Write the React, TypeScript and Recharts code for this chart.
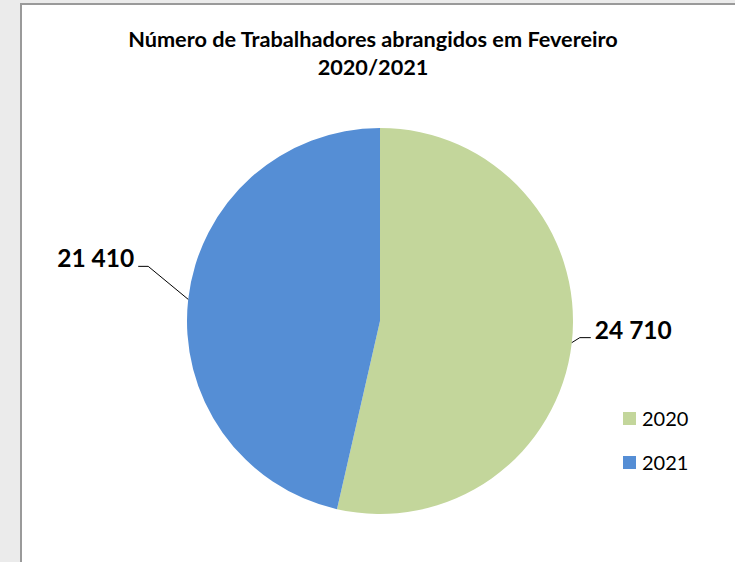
import { Cell, Legend, Pie, PieChart } from "recharts";

const years = ["2020", "2021"];
const workers = [24710, 21410];
const colors = ["#c3d69b", "#558ed5"];

const data = years.map((year, i) => ({ name: year, value: workers[i] }));

// manual label placement (like excel: elbow offset from slice edge, then a short tail)
const labelOffsets = [
  { dx: 8, dy: -5, tail: 11 },
  { dx: -40, dy: -33, tail: -10 },
];

const RAD = Math.PI / 180;
const font = "Lato, 'Open Sans', sans-serif";

const fmt = (v: number) => v.toLocaleString("en-US").replace(/,/g, " ");

function SliceLabel(props: any) {
  const { cx, cy, midAngle, outerRadius, value, index } = props;
  const ex = cx + outerRadius * Math.cos(-midAngle * RAD);
  const ey = cy + outerRadius * Math.sin(-midAngle * RAD);
  const o = labelOffsets[index];
  const mx = ex + o.dx;
  const my = ey + o.dy;
  const tx = mx + o.tail;
  const right = o.tail > 0;
  return (
    <g>
      <polyline
        points={`${ex},${ey} ${mx},${my} ${tx},${my}`}
        fill="none"
        stroke="#000"
        strokeWidth={1}
      />
      <text
        x={right ? tx + 4 : tx - 4}
        y={my + 1}
        textAnchor={right ? "start" : "end"}
        fontFamily={font}
        fontWeight={700}
        fontSize={24.5}
        fill="#000"
      >
        {fmt(value)}
      </text>
    </g>
  );
}

function LegendBox({ payload }: any) {
  return (
    <div style={{ fontFamily: font, fontSize: 20, color: "#000" }}>
      {(payload || []).map((p: any, i: number) => (
        <div
          key={p.value}
          style={{ display: "flex", alignItems: "center", height: 24, marginBottom: i === 0 ? 20 : 0 }}
        >
          <span style={{ width: 13, height: 13, background: p.color, display: "inline-block", marginRight: 6 }} />
          <span>{p.value}</span>
        </div>
      ))}
    </div>
  );
}

export default function App() {
  return (
    <div style={{ position: "absolute", left: 0, top: 0, width: 735, height: 562, background: "#ebebeb", overflow: "hidden" }}>
      <div
        style={{
          position: "absolute",
          left: 20,
          top: 3,
          width: 740,
          height: 580,
          background: "#fff",
          borderLeft: "2px solid #9a9a9a",
          borderTop: "2px solid #9a9a9a",
        }}
      />
      <div style={{ position: "absolute", left: 0, top: 0 }}>
        <PieChart width={735} height={562} margin={{ top: 0, right: 0, bottom: 0, left: 0 }}>
          <text x={373} y={47} textAnchor="middle" fontFamily={font} fontWeight={700} fontSize={21.7} fill="#000">
            Número de Trabalhadores abrangidos em Fevereiro
          </text>
          <text x={373} y={75} textAnchor="middle" fontFamily={font} fontWeight={700} fontSize={21.7} fill="#000">
            2020/2021
          </text>
          <Pie
            data={data}
            dataKey="value"
            nameKey="name"
            cx={380}
            cy={321}
            outerRadius={193}
            startAngle={90}
            endAngle={-270}
            stroke="none"
            label={SliceLabel}
            labelLine={false}
            isAnimationActive={false}
          >
            {data.map((d, i) => (
              <Cell key={d.name} fill={colors[i]} />
            ))}
          </Pie>
          <Legend
            content={<LegendBox />}
            payload={data.map((d, i) => ({ value: d.name, color: colors[i], type: "square" as const }))}
            wrapperStyle={{ position: "absolute", left: 623, top: 406, width: 90 }}
          />
        </PieChart>
      </div>
    </div>
  );
}
